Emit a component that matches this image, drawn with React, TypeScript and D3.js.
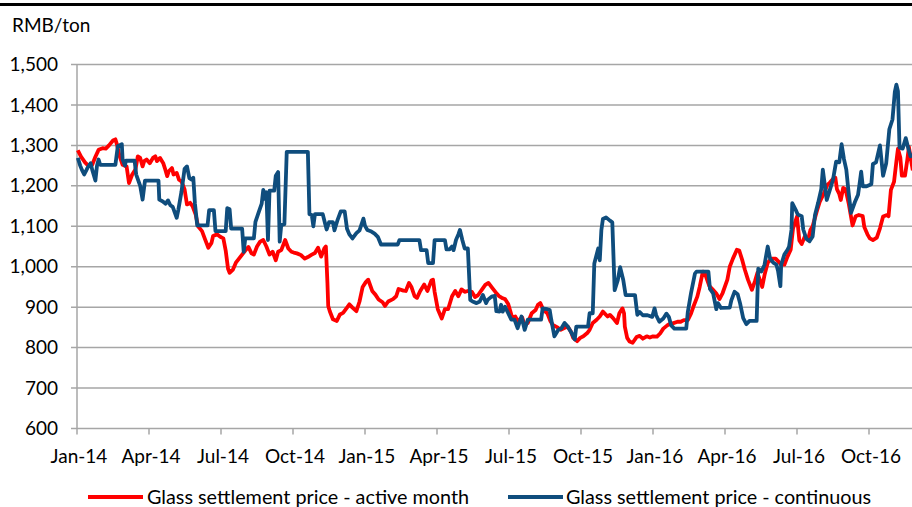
import * as d3 from "d3";

// quarter boundaries used for the x axis (last one only closes the domain)
const quarterStarts = [
  "2014-01-01", "2014-04-01", "2014-07-01", "2014-10-01",
  "2015-01-01", "2015-04-01", "2015-07-01", "2015-10-01",
  "2016-01-01", "2016-04-01", "2016-07-01", "2016-10-01",
  "2017-01-01",
];

const yTicks = [600, 700, 800, 900, 1000, 1100, 1200, 1300, 1400, 1500];

const seriesNames = [
  "Glass settlement price - active month",
  "Glass settlement price - continuous",
];

// Glass settlement price - active month (RMB/ton)
const activeMonth: [string, number][] = [
  ["2014-01-02", 1288], ["2014-01-06", 1272], ["2014-01-11", 1258], ["2014-01-15", 1250],
  ["2014-01-20", 1252], ["2014-01-24", 1272], ["2014-01-28", 1289], ["2014-02-02", 1293],
  ["2014-02-06", 1292], ["2014-02-10", 1300], ["2014-02-15", 1312], ["2014-02-18", 1315],
  ["2014-02-20", 1302], ["2014-02-23", 1275], ["2014-02-27", 1252], ["2014-03-04", 1248],
  ["2014-03-07", 1207], ["2014-03-11", 1228], ["2014-03-15", 1240], ["2014-03-18", 1273],
  ["2014-03-21", 1269], ["2014-03-24", 1248], ["2014-03-26", 1261], ["2014-03-29", 1265],
  ["2014-04-02", 1256], ["2014-04-06", 1269], ["2014-04-09", 1273], ["2014-04-11", 1261],
  ["2014-04-15", 1269], ["2014-04-19", 1256], ["2014-04-21", 1244], ["2014-04-24", 1224],
  ["2014-04-26", 1236], ["2014-04-30", 1244], ["2014-05-02", 1228], ["2014-05-06", 1232],
  ["2014-05-09", 1215], ["2014-05-12", 1211], ["2014-05-16", 1191], ["2014-05-19", 1154],
  ["2014-05-23", 1158], ["2014-05-26", 1150], ["2014-05-30", 1129], ["2014-06-02", 1100],
  ["2014-06-07", 1088], ["2014-06-11", 1067], ["2014-06-15", 1047], ["2014-06-19", 1059],
  ["2014-06-21", 1076], ["2014-06-26", 1080], ["2014-06-30", 1074], ["2014-07-04", 1070],
  ["2014-07-07", 1040], ["2014-07-10", 995], ["2014-07-12", 985], ["2014-07-16", 992],
  ["2014-07-20", 1010], ["2014-07-24", 1020], ["2014-07-28", 1030], ["2014-08-01", 1040],
  ["2014-08-05", 1049], ["2014-08-09", 1033], ["2014-08-12", 1030], ["2014-08-16", 1050],
  ["2014-08-20", 1062], ["2014-08-24", 1066], ["2014-08-28", 1050], ["2014-09-01", 1030],
  ["2014-09-05", 1037], ["2014-09-09", 1016], ["2014-09-12", 1037], ["2014-09-16", 1041],
  ["2014-09-21", 1066], ["2014-09-25", 1045], ["2014-09-29", 1037], ["2014-10-02", 1035],
  ["2014-10-06", 1033], ["2014-10-11", 1029], ["2014-10-16", 1020], ["2014-10-20", 1024],
  ["2014-10-25", 1030], ["2014-10-29", 1034], ["2014-11-02", 1047], ["2014-11-06", 1025],
  ["2014-11-10", 1045], ["2014-11-12", 1050], ["2014-11-14", 960], ["2014-11-15", 903],
  ["2014-11-17", 890], ["2014-11-21", 870], ["2014-11-26", 866], ["2014-11-30", 882],
  ["2014-12-04", 886], ["2014-12-09", 899], ["2014-12-12", 907], ["2014-12-16", 899],
  ["2014-12-21", 890], ["2014-12-25", 914], ["2014-12-29", 950], ["2015-01-02", 962],
  ["2015-01-05", 968], ["2015-01-10", 940], ["2015-01-14", 931], ["2015-01-18", 919],
  ["2015-01-23", 912], ["2015-01-26", 903], ["2015-01-30", 914], ["2015-02-05", 920],
  ["2015-02-09", 927], ["2015-02-12", 945], ["2015-02-18", 941], ["2015-02-21", 940],
  ["2015-02-25", 960], ["2015-02-28", 950], ["2015-03-04", 927], ["2015-03-07", 923],
  ["2015-03-11", 940], ["2015-03-16", 956], ["2015-03-20", 940], ["2015-03-25", 966],
  ["2015-03-27", 968], ["2015-03-29", 938], ["2015-04-02", 895], ["2015-04-07", 872],
  ["2015-04-11", 895], ["2015-04-15", 895], ["2015-04-20", 927], ["2015-04-24", 940],
  ["2015-04-28", 927], ["2015-05-02", 944], ["2015-05-06", 938], ["2015-05-10", 940],
  ["2015-05-15", 938], ["2015-05-19", 925], ["2015-05-23", 930], ["2015-05-28", 944],
  ["2015-06-01", 955], ["2015-06-05", 960], ["2015-06-10", 947], ["2015-06-14", 937],
  ["2015-06-18", 928], ["2015-06-23", 922], ["2015-06-26", 920], ["2015-06-30", 908],
  ["2015-07-05", 875], ["2015-07-09", 877], ["2015-07-12", 866], ["2015-07-18", 874],
  ["2015-07-21", 855], ["2015-07-25", 861], ["2015-07-30", 885], ["2015-08-04", 893],
  ["2015-08-07", 906], ["2015-08-10", 910], ["2015-08-14", 893], ["2015-08-19", 885],
  ["2015-08-23", 865], ["2015-08-26", 856], ["2015-09-01", 850], ["2015-09-05", 844],
  ["2015-09-09", 848], ["2015-09-14", 852], ["2015-09-18", 840], ["2015-09-21", 824],
  ["2015-09-26", 816], ["2015-09-30", 824], ["2015-10-04", 828], ["2015-10-09", 836],
  ["2015-10-12", 844], ["2015-10-16", 861], ["2015-10-21", 869], ["2015-10-25", 877],
  ["2015-10-29", 889], ["2015-11-04", 877], ["2015-11-07", 881], ["2015-11-11", 873],
  ["2015-11-16", 861], ["2015-11-19", 885], ["2015-11-23", 897], ["2015-11-25", 885],
  ["2015-11-26", 852], ["2015-11-29", 824], ["2015-12-02", 815], ["2015-12-06", 812],
  ["2015-12-11", 826], ["2015-12-15", 829], ["2015-12-19", 822], ["2015-12-24", 828],
  ["2015-12-28", 825], ["2016-01-01", 828], ["2016-01-06", 827], ["2016-01-10", 835],
  ["2016-01-14", 847], ["2016-01-19", 855], ["2016-01-23", 860], ["2016-01-26", 860],
  ["2016-02-01", 864], ["2016-02-05", 864], ["2016-02-09", 868], ["2016-02-14", 868],
  ["2016-02-18", 884], ["2016-02-21", 901], ["2016-02-26", 926], ["2016-02-29", 950],
  ["2016-03-04", 988], ["2016-03-06", 987], ["2016-03-09", 970], ["2016-03-12", 953],
  ["2016-03-16", 945], ["2016-03-21", 934], ["2016-03-25", 920], ["2016-03-29", 935],
  ["2016-04-04", 968], ["2016-04-07", 1000], ["2016-04-11", 1020], ["2016-04-16", 1042],
  ["2016-04-19", 1040], ["2016-04-23", 1015], ["2016-04-26", 993], ["2016-04-30", 968],
  ["2016-05-05", 943], ["2016-05-09", 965], ["2016-05-12", 985], ["2016-05-18", 950],
  ["2016-05-21", 980], ["2016-05-25", 1010], ["2016-05-30", 1020], ["2016-06-04", 1020],
  ["2016-06-07", 1014], ["2016-06-11", 1005], ["2016-06-15", 1005], ["2016-06-19", 1025],
  ["2016-06-23", 1042], ["2016-06-26", 1095], ["2016-07-01", 1124], ["2016-07-04", 1065],
  ["2016-07-07", 1056], ["2016-07-11", 1075], ["2016-07-15", 1066], ["2016-07-18", 1090],
  ["2016-07-21", 1100], ["2016-07-26", 1135], ["2016-07-30", 1160], ["2016-08-04", 1180],
  ["2016-08-09", 1203], ["2016-08-12", 1208], ["2016-08-16", 1217], ["2016-08-19", 1220],
  ["2016-08-21", 1192], ["2016-08-24", 1180], ["2016-08-26", 1165], ["2016-08-29", 1195],
  ["2016-09-01", 1192], ["2016-09-05", 1157], ["2016-09-10", 1102], ["2016-09-14", 1125],
  ["2016-09-18", 1128], ["2016-09-23", 1125], ["2016-09-25", 1098], ["2016-09-29", 1080],
  ["2016-10-02", 1070], ["2016-10-06", 1066], ["2016-10-11", 1072], ["2016-10-15", 1095],
  ["2016-10-19", 1124], ["2016-10-24", 1128], ["2016-10-26", 1125], ["2016-10-29", 1190],
  ["2016-11-02", 1210], ["2016-11-05", 1260], ["2016-11-07", 1292], ["2016-11-10", 1270],
  ["2016-11-12", 1225], ["2016-11-16", 1225], ["2016-11-19", 1265], ["2016-11-21", 1296],
  ["2016-11-24", 1260], ["2016-11-26", 1238],
];

// Glass settlement price - continuous (RMB/ton)
const continuous: [string, number][] = [
  ["2014-01-02", 1269], ["2014-01-05", 1250], ["2014-01-07", 1240], ["2014-01-10", 1228],
  ["2014-01-14", 1244], ["2014-01-18", 1256], ["2014-01-20", 1240], ["2014-01-24", 1213],
  ["2014-01-26", 1250], ["2014-01-28", 1265], ["2014-01-30", 1252], ["2014-02-18", 1252],
  ["2014-02-21", 1298], ["2014-02-26", 1303], ["2014-02-27", 1265], ["2014-03-02", 1250],
  ["2014-03-03", 1262], ["2014-03-14", 1262], ["2014-03-16", 1228], ["2014-03-21", 1200],
  ["2014-03-24", 1166], ["2014-03-27", 1213], ["2014-04-13", 1213], ["2014-04-14", 1166],
  ["2014-04-18", 1162], ["2014-04-22", 1156], ["2014-04-25", 1164], ["2014-04-28", 1152],
  ["2014-05-01", 1148], ["2014-05-06", 1121], ["2014-05-08", 1140], ["2014-05-12", 1185],
  ["2014-05-16", 1242], ["2014-05-19", 1248], ["2014-05-22", 1219], ["2014-05-25", 1215],
  ["2014-05-27", 1220], ["2014-05-29", 1157], ["2014-06-01", 1102], ["2014-06-14", 1102],
  ["2014-06-16", 1140], ["2014-06-22", 1140], ["2014-06-24", 1088], ["2014-07-07", 1088],
  ["2014-07-09", 1145], ["2014-07-12", 1142], ["2014-07-14", 1094], ["2014-07-28", 1094],
  ["2014-07-30", 1037], ["2014-08-01", 1070], ["2014-08-12", 1070], ["2014-08-14", 1111],
  ["2014-08-18", 1134], ["2014-08-22", 1156], ["2014-08-24", 1190], ["2014-08-26", 1168],
  ["2014-08-28", 1184], ["2014-08-30", 1066], ["2014-09-01", 1188], ["2014-09-07", 1188],
  ["2014-09-09", 1225], ["2014-09-12", 1234], ["2014-09-14", 1062], ["2014-09-16", 1103],
  ["2014-09-20", 1105], ["2014-09-23", 1284], ["2014-10-20", 1284], ["2014-10-22", 1130],
  ["2014-10-25", 1128], ["2014-10-27", 1100], ["2014-10-29", 1130], ["2014-11-08", 1130],
  ["2014-11-11", 1107], ["2014-11-13", 1092], ["2014-11-16", 1110], ["2014-11-21", 1110],
  ["2014-11-23", 1090], ["2014-11-27", 1116], ["2014-12-01", 1137], ["2014-12-06", 1137],
  ["2014-12-09", 1094], ["2014-12-12", 1080], ["2014-12-16", 1070], ["2014-12-21", 1083],
  ["2014-12-25", 1090], ["2014-12-30", 1119], ["2015-01-01", 1101], ["2015-01-04", 1091],
  ["2015-01-09", 1087], ["2015-01-13", 1082], ["2015-01-17", 1074], ["2015-01-21", 1055],
  ["2015-02-11", 1055], ["2015-02-13", 1066], ["2015-03-10", 1066], ["2015-03-12", 1041],
  ["2015-03-19", 1041], ["2015-03-21", 1009], ["2015-03-27", 1009], ["2015-03-29", 1066],
  ["2015-04-11", 1066], ["2015-04-13", 1043], ["2015-04-17", 1043], ["2015-04-20", 1050],
  ["2015-04-22", 1041], ["2015-04-25", 1066], ["2015-04-28", 1080], ["2015-04-30", 1091],
  ["2015-05-03", 1066], ["2015-05-06", 1045], ["2015-05-10", 1045], ["2015-05-13", 918],
  ["2015-05-16", 914], ["2015-05-21", 910], ["2015-05-25", 914], ["2015-05-29", 930],
  ["2015-06-02", 910], ["2015-06-04", 918], ["2015-06-09", 926], ["2015-06-13", 928],
  ["2015-06-15", 890], ["2015-06-19", 889], ["2015-06-21", 906], ["2015-06-23", 889],
  ["2015-06-26", 901], ["2015-06-30", 885], ["2015-07-04", 869], ["2015-07-08", 869],
  ["2015-07-12", 848], ["2015-07-17", 877], ["2015-07-21", 844], ["2015-07-25", 869],
  ["2015-08-11", 869], ["2015-08-13", 897], ["2015-08-19", 895], ["2015-08-22", 893],
  ["2015-08-24", 869], ["2015-08-28", 828], ["2015-09-02", 844], ["2015-09-06", 848],
  ["2015-09-10", 861], ["2015-09-14", 852], ["2015-09-19", 836], ["2015-09-23", 820],
  ["2015-09-25", 852], ["2015-10-10", 852], ["2015-10-12", 885], ["2015-10-16", 885],
  ["2015-10-18", 1008], ["2015-10-23", 1045], ["2015-10-25", 1016], ["2015-10-27", 1090],
  ["2015-10-29", 1118], ["2015-11-02", 1122], ["2015-11-07", 1114], ["2015-11-10", 1110],
  ["2015-11-13", 942], ["2015-11-17", 967], ["2015-11-20", 999], ["2015-11-24", 967],
  ["2015-11-27", 930], ["2015-12-09", 930], ["2015-12-12", 881], ["2015-12-15", 888],
  ["2015-12-19", 880], ["2015-12-25", 880], ["2015-12-31", 876], ["2016-01-03", 897],
  ["2016-01-05", 880], ["2016-01-09", 864], ["2016-01-14", 872], ["2016-01-18", 884],
  ["2016-01-21", 876], ["2016-01-24", 855], ["2016-01-28", 847], ["2016-02-12", 847],
  ["2016-02-14", 888], ["2016-02-18", 934], ["2016-02-23", 983], ["2016-02-25", 988],
  ["2016-03-11", 988], ["2016-03-13", 945], ["2016-03-17", 934], ["2016-03-21", 895],
  ["2016-03-23", 910], ["2016-03-27", 898], ["2016-04-07", 899], ["2016-04-09", 917],
  ["2016-04-13", 938], ["2016-04-17", 932], ["2016-04-20", 910], ["2016-04-24", 873],
  ["2016-04-28", 858], ["2016-05-02", 866], ["2016-05-11", 866], ["2016-05-13", 995],
  ["2016-05-17", 988], ["2016-05-21", 1005], ["2016-05-25", 1050], ["2016-05-28", 1020],
  ["2016-06-01", 1010], ["2016-06-05", 1005], ["2016-06-07", 990], ["2016-06-10", 952],
  ["2016-06-11", 1005], ["2016-06-15", 1030], ["2016-06-19", 1042], ["2016-06-21", 1050],
  ["2016-06-24", 1091], ["2016-06-25", 1157], ["2016-06-30", 1138], ["2016-07-02", 1129],
  ["2016-07-07", 1125], ["2016-07-09", 1092], ["2016-07-13", 1069], ["2016-07-17", 1063],
  ["2016-07-21", 1075], ["2016-07-24", 1128], ["2016-07-28", 1158], ["2016-08-01", 1192],
  ["2016-08-03", 1240], ["2016-08-08", 1165], ["2016-08-12", 1190], ["2016-08-16", 1215],
  ["2016-08-20", 1260], ["2016-08-24", 1258], ["2016-08-27", 1303], ["2016-08-30", 1266],
  ["2016-09-02", 1240], ["2016-09-05", 1183], ["2016-09-08", 1133], ["2016-09-13", 1160],
  ["2016-09-17", 1178], ["2016-09-19", 1206], ["2016-09-21", 1235], ["2016-09-23", 1199],
  ["2016-09-28", 1199], ["2016-10-04", 1204], ["2016-10-06", 1254], ["2016-10-10", 1258],
  ["2016-10-15", 1300], ["2016-10-19", 1225], ["2016-10-23", 1256], ["2016-10-27", 1340],
  ["2016-10-31", 1364], ["2016-11-03", 1432], ["2016-11-05", 1450], ["2016-11-07", 1434],
  ["2016-11-09", 1295], ["2016-11-13", 1292], ["2016-11-17", 1318], ["2016-11-20", 1294],
  ["2016-11-23", 1273], ["2016-11-25", 1280],
];

const RED = "#ff0000";
const BLUE = "#0f4d7d";
const GRID = "#a6a6a6";
const FONT = "Lato, 'Open Sans', sans-serif";

export default function App() {
  const width = 912;
  const height = 507;
  const plotLeft = 77;
  const quarterWidth = 72;

  const parse = d3.timeParse("%Y-%m-%d");
  const qDates = quarterStarts.map((d) => parse(d) as Date);

  // Excel-style date axis: every quarter gets the same width
  const x = d3
    .scaleTime()
    .domain(qDates)
    .range(qDates.map((_, i) => plotLeft + i * quarterWidth));

  const y = d3.scaleLinear().domain([600, 1500]).range([428.5, 64.5]);

  const line = d3
    .line<[string, number]>()
    .x((d) => x(parse(d[0]) as Date))
    .y((d) => y(d[1]));

  const fmtY = d3.format(",");
  const fmtX = d3.timeFormat("%b-%y");
  const xTicks = qDates.slice(0, -1);

  return (
    <svg
      width={width}
      height={height}
      style={{ position: "absolute", left: 0, top: 0, background: "#fff" }}
      fontFamily={FONT}
    >
      <line x1={0} x2={width} y1={4.5} y2={4.5} stroke="#000" strokeWidth={2.8} />
      <text x={12} y={31.5} fontSize={19} fill="#000">
        RMB/ton
      </text>

      {/* y gridlines + labels */}
      {yTicks.map((t) => (
        <g key={t}>
          <line x1={plotLeft - 6} x2={width} y1={y(t)} y2={y(t)} stroke={GRID} strokeWidth={1.5} />
          <text x={58} y={y(t)} dy="0.35em" textAnchor="end" fontSize={19} fill="#000">
            {fmtY(t)}
          </text>
        </g>
      ))}

      {/* y axis */}
      <line x1={plotLeft} x2={plotLeft} y1={y(1500)} y2={y(600)} stroke={GRID} strokeWidth={1.5} />

      {/* x ticks + labels */}
      {xTicks.map((d, i) => (
        <g key={i}>
          <line x1={x(d)} x2={x(d)} y1={y(600)} y2={y(600) + 6} stroke={GRID} strokeWidth={1.5} />
          <text x={x(d) + 2} y={463} textAnchor="middle" fontSize={19} fill="#000">
            {fmtX(d)}
          </text>
        </g>
      ))}

      <path d={line(activeMonth) ?? ""} fill="none" stroke={RED} strokeWidth={3.8} strokeLinejoin="round" />
      <path d={line(continuous) ?? ""} fill="none" stroke={BLUE} strokeWidth={3.8} strokeLinejoin="round" />

      {/* legend */}
      <g fontSize={19.8} fill="#000">
        <line x1={88} x2={143} y1={497} y2={497} stroke={RED} strokeWidth={4} />
        <text x={147} y={503.5}>{seriesNames[0]}</text>
        <line x1={508} x2={563} y1={497} y2={497} stroke={BLUE} strokeWidth={4} />
        <text x={566} y={503.5}>{seriesNames[1]}</text>
      </g>
    </svg>
  );
}
